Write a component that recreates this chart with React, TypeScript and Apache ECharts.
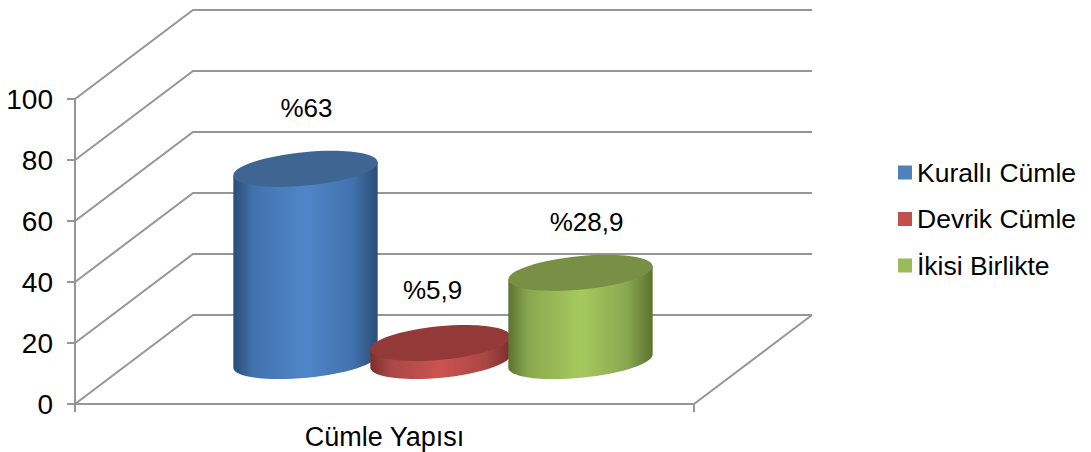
import React, { useEffect, useRef } from "react";
import * as echarts from "echarts";

const categories = ["Cümle Yapısı"];
const seriesNames = ["Kurallı Cümle", "Devrik Cümle", "İkisi Birlikte"];
const kuralli = [63];
const devrik = [5.9];
const ikisi = [28.9];
const dataLabels = ["%63", "%5,9", "%28,9"];
const wallTicks = [0, 20, 40, 60, 80, 100];

const FONT = '"Liberation Sans", Arial, sans-serif';
const LINE = "#969696";
const DX = 118;
const DY = 89;
const BASE_LIFT = 43;
const RX = 72.5;
const RY = 16.8;
const TILT = 5.5;
const K = 0.5523;

const looks = [
  { legend: "#4F81BD", top: "#3F6593", edge: "#2C4D75", mid: "#4172AE", light: "#5086C8", cxOff: -79, rx: RX, lx: 1, ly: -61 },
  { legend: "#C0504D", top: "#933A38", edge: "#7C2E2C", mid: "#A94745", light: "#CC5450", cxOff: 56, rx: 70.5, lx: -8, ly: -53 },
  { legend: "#9BBB59", top: "#788F45", edge: "#5C7332", mid: "#8AA84F", light: "#A6C95E", cxOff: 196, rx: RX, lx: 6, ly: -51 },
];

const f = (n: number) => n.toFixed(2);

function ellipsePoints(cx: number, cy: number, rx: number, ry: number) {
  const t = (TILT * Math.PI) / 180;
  const ux = Math.cos(t), uy = -Math.sin(t), vx = Math.sin(t), vy = Math.cos(t);
  const at = (a: number, b: number) => [cx + a * rx * ux + b * ry * vx, cy + a * rx * uy + b * ry * vy];
  const seg = (p: number[][]) => `C${p.map((q) => `${f(q[0])} ${f(q[1])}`).join(" ")}`;
  return {
    left: at(-1, 0),
    right: at(1, 0),
    // left → bottom → right
    lower: seg([at(-1, K), at(-K, 1), at(0, 1)]) + " " + seg([at(K, 1), at(1, K), at(1, 0)]),
    // right → top → left
    upper: seg([at(1, -K), at(K, -1), at(0, -1)]) + " " + seg([at(-K, -1), at(-1, -K), at(-1, 0)]),
  };
}

function cylinder(i: number) {
  const look = looks[i];
  return (params: any, api: any) => {
    const cs = params.coordSys;
    const value = api.value(1);
    const centre = cs.x + cs.width / 2 + look.cxOff;
    const ty = api.coord([0, value])[1] - BASE_LIFT;
    const by = api.coord([0, 0])[1] - BASE_LIFT;
    const topE = ellipsePoints(centre, ty, look.rx, RY);
    const botE = ellipsePoints(centre, by, look.rx, RY);
    const body =
      `M${f(topE.left[0])} ${f(topE.left[1])} L${f(botE.left[0])} ${f(botE.left[1])} ${botE.lower} ` +
      `L${f(topE.right[0])} ${f(topE.right[1])} Z`;
    const cap = `M${f(topE.left[0])} ${f(topE.left[1])} ${topE.lower} ${topE.upper} Z`;
    return {
      type: "group",
      children: [
        {
          type: "path",
          shape: { pathData: body },
          style: {
            fill: new echarts.graphic.LinearGradient(0, 0, 1, 0, [
              { offset: 0, color: look.edge },
              { offset: 0.14, color: look.mid },
              { offset: 0.5, color: look.light },
              { offset: 0.82, color: look.mid },
              { offset: 1, color: look.edge },
            ]),
          },
        },
        { type: "path", shape: { pathData: cap }, style: { fill: look.top } },
        {
          type: "text",
          x: centre + look.lx,
          y: ty + look.ly,
          style: {
            text: dataLabels[i],
            fill: "#000",
            font: `26px ${FONT}`,
            textAlign: "center",
            textVerticalAlign: "middle",
          },
        },
      ],
    };
  };
}

function walls(params: any, api: any) {
  const cs = params.coordSys;
  const left = cs.x;
  const right = cs.x + cs.width;
  const y = api.coord([0, api.value(1)])[1];
  const lineStyle = { stroke: LINE, lineWidth: 2, fill: "none" };
  const children: any[] = [
    {
      type: "polyline",
      shape: { points: [[left, y], [left + DX, y - DY], [right + DX, y - DY]] },
      style: lineStyle,
    },
  ];
  if (api.value(1) === 0) {
    children.push({
      type: "line",
      shape: { x1: right, y1: y, x2: right + DX, y2: y - DY },
      style: lineStyle,
    });
  }
  return { type: "group", children };
}

export default function App() {
  const ref = useRef<HTMLDivElement>(null);
  useEffect(() => {
    document.body.style.margin = "0";
    const chart = echarts.init(ref.current!, undefined, { renderer: "svg" });
    const values = [kuralli, devrik, ikisi];
    chart.setOption({
      animation: false,
      textStyle: { fontFamily: FONT },
      grid: { left: 75, right: 397, top: 99, bottom: 48 },
      legend: {
        orient: "vertical",
        left: 893,
        top: 154,
        icon: "rect",
        itemWidth: 14,
        itemHeight: 14,
        itemGap: 19.5,
        selectedMode: false,
        data: seriesNames,
        textStyle: { color: "#000", fontSize: 26.5, fontFamily: FONT },
      },
      xAxis: {
        type: "category",
        data: categories,
        axisLine: { lineStyle: { color: LINE, width: 2 } },
        axisTick: { show: true, length: 8, alignWithLabel: false, lineStyle: { color: LINE, width: 2 } },
        axisLabel: { color: "#000", fontSize: 27, fontFamily: FONT, margin: 19 },
        splitLine: { show: false },
      },
      yAxis: {
        type: "value",
        min: 0,
        max: 100,
        interval: 20,
        axisLine: { show: true, lineStyle: { color: LINE, width: 2 } },
        axisTick: { show: true, length: 8, lineStyle: { color: LINE, width: 2 } },
        axisLabel: { color: "#000", fontSize: 28, fontFamily: FONT, margin: 22 },
        splitLine: { show: false },
      },
      series: [
        {
          type: "custom",
          name: "walls",
          z: 1,
          clip: false,
          silent: true,
          renderItem: walls,
          data: wallTicks.map((v) => [0, v]),
          encode: { x: 0, y: 1 },
        },
        ...seriesNames.map((name, i) => ({
          type: "custom",
          name,
          z: 2 + i,
          clip: false,
          itemStyle: { color: looks[i].legend },
          renderItem: cylinder(i),
          data: values[i].map((v) => [0, v]),
          encode: { x: 0, y: 1 },
        })),
      ],
    });
    return () => chart.dispose();
  }, []);
  return <div ref={ref} style={{ position: "absolute", left: 0, top: 0, width: 1091, height: 452 }} />;
}
